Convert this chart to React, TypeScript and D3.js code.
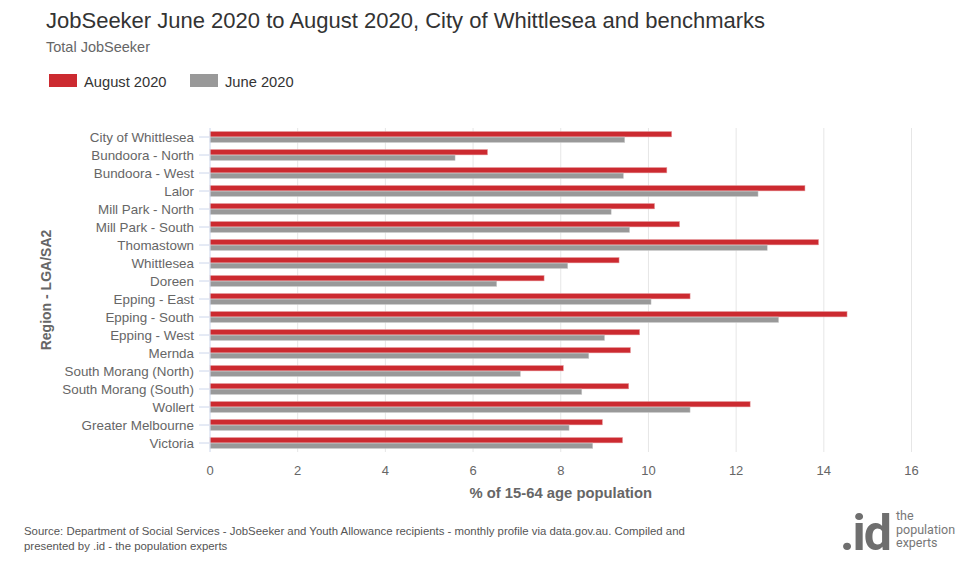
import React from "react";
import * as d3 from "d3";

const categories = [
  "City of Whittlesea",
  "Bundoora - North",
  "Bundoora - West",
  "Lalor",
  "Mill Park - North",
  "Mill Park - South",
  "Thomastown",
  "Whittlesea",
  "Doreen",
  "Epping - East",
  "Epping - South",
  "Epping - West",
  "Mernda",
  "South Morang (North)",
  "South Morang (South)",
  "Wollert",
  "Greater Melbourne",
  "Victoria",
];

const august2020 = [10.53, 6.33, 10.42, 13.57, 10.14, 10.71, 13.88, 9.33, 7.62, 10.95, 14.53, 9.8, 9.59, 8.06, 9.55, 12.32, 8.95, 9.41];
const june2020 = [9.46, 5.59, 9.43, 12.5, 9.15, 9.57, 12.71, 8.16, 6.54, 10.06, 12.97, 9.0, 8.64, 7.08, 8.48, 10.95, 8.19, 8.73];
const xTicks = [0, 2, 4, 6, 8, 10, 12, 14, 16];

const seriesNames = ["August 2020", "June 2020"];
const seriesColors = ["#cc2a30", "#999999"];

const W = 968;
const H = 569;
const FONT = "'Liberation Sans', Arial, sans-serif";

export default function App() {
  const x = d3.scaleLinear().domain([0, 16]).range([210, 911.5]);
  const y = d3.scaleBand<string>().domain(categories).range([128, 452]);
  const barH = 5.4;

  return (
    <svg
      width={W}
      height={H}
      style={{ position: "absolute", left: 0, top: 0, background: "#fff" }}
      fontFamily={FONT}
    >
      <rect x={0} y={0} width={W} height={H} fill="#fff" />
      {/* Title */}
      <text x={46} y={28} fontSize={22} fill="#333">
        JobSeeker June 2020 to August 2020, City of Whittlesea and benchmarks
      </text>
      <text x={46} y={52} fontSize={14.5} fill="#666">
        Total JobSeeker
      </text>

      {/* Legend */}
      {seriesNames.map((name, i) => {
        const lx = i === 0 ? 49 : 190;
        return (
          <g key={name}>
            <rect x={lx} y={74} width={28} height={13} fill={seriesColors[i]} />
            <text x={lx + 35} y={86.5} fontSize={14.7} fill="#333">
              {name}
            </text>
          </g>
        );
      })}

      {/* Gridlines */}
      {xTicks.map((t) =>
        t === 0 ? null : (
          <line key={t} x1={x(t)} x2={x(t)} y1={128} y2={452} stroke="#e6e6e6" strokeWidth={1} />
        )
      )}

      {/* Bars */}
      {categories.map((c, i) => {
        const cy = (y(c) as number) + y.bandwidth() / 2;
        return (
          <g key={c}>
            <rect x={x(0)} y={cy - barH - 0.1} width={x(august2020[i]) - x(0)} height={barH} fill={seriesColors[0]} stroke="#e8a0a3" strokeWidth={0.5} />
            <rect x={x(0)} y={cy + 0.1} width={x(june2020[i]) - x(0)} height={barH} fill={seriesColors[1]} stroke="#cfcfcf" strokeWidth={0.5} />
          </g>
        );
      })}

      {/* Y axis line and ticks */}
      <line x1={210} x2={210} y1={128} y2={452} stroke="#ccd6eb" strokeWidth={1} />
      {categories.map((c) => {
        const cy = (y(c) as number) + y.bandwidth() / 2;
        return (
          <g key={c}>
            <line x1={199} x2={209} y1={cy} y2={cy} stroke="#ccd6eb" strokeWidth={1} />
            <text x={194} y={cy} dy="0.35em" textAnchor="end" fontSize={13.4} fill="#666">
              {c}
            </text>
          </g>
        );
      })}

      {/* X tick labels */}
      {xTicks.map((t) => (
        <text key={t} x={x(t)} y={475} textAnchor="middle" fontSize={13} fill="#666">
          {t}
        </text>
      ))}
      <text x={x(8)} y={498} textAnchor="middle" fontSize={14.8} fontWeight="bold" fill="#666">
        % of 15-64 age population
      </text>
      <text
        transform={`translate(51,290) rotate(-90)`}
        textAnchor="middle"
        fontSize={14}
        fontWeight="bold"
        fill="#666"
      >
        Region - LGA/SA2
      </text>

      {/* Footer */}
      <text x={24} y={535} fontSize={11.4} fill="#555">
        Source: Department of Social Services - JobSeeker and Youth Allowance recipients - monthly profile via data.gov.au. Compiled and
      </text>
      <text x={24} y={550} fontSize={11.4} fill="#555">
        presented by .id - the population experts
      </text>

      {/* Logo */}
      <text x={890} y={550} textAnchor="end" fontSize={50} fontWeight="bold" fill="#6f6f6f" fontFamily="Roboto, 'Liberation Sans', sans-serif" letterSpacing={-2}>
        .id
      </text>
      <g fontFamily="Roboto, 'Liberation Sans', sans-serif" fontSize={12.5} fill="#777">
        <text x={896} y={520}>the</text>
        <text x={896} y={533.5}>population</text>
        <text x={896} y={547}>experts</text>
      </g>
    </svg>
  );
}
